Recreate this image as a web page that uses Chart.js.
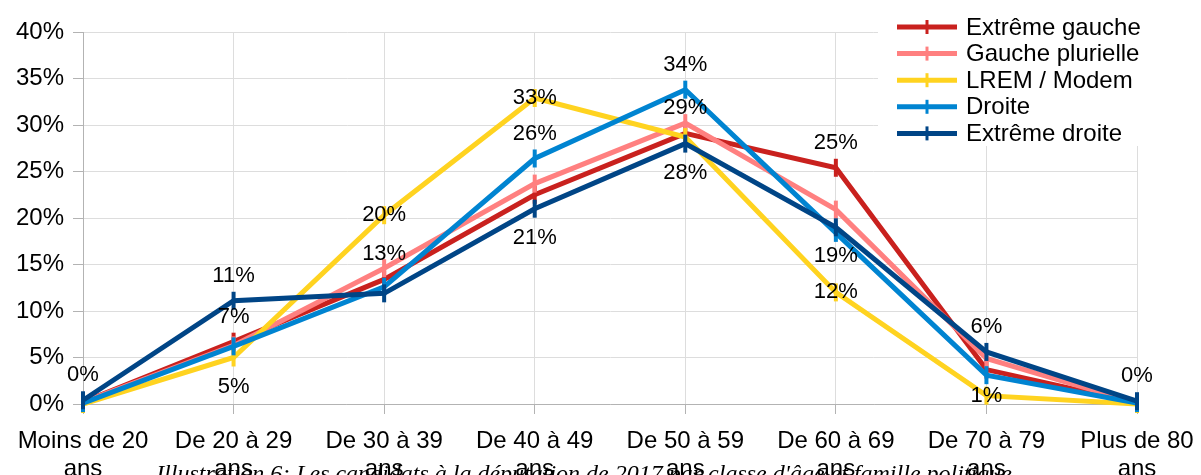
<!DOCTYPE html>
<html>
<head>
<meta charset="utf-8">
<script src="https://cdn.jsdelivr.net/npm/chart.js@4.4.1/dist/chart.umd.min.js"></script>
<style>
  html, body { margin:0; padding:0; background:#fff; overflow:hidden; }
  #wrap { position:relative; width:1201px; height:475px; }
  #caption {
    position:absolute; left:0; width:1168px; top:461px;
    text-align:center; white-space:nowrap;
    font: italic 24px "Liberation Serif", serif; line-height:24px; color:#000;
  }
</style>
</head>
<body>
<div id="wrap">
  <canvas id="myChart" width="1201" height="475"></canvas>
  <div id="caption">Illustration 6: Les candidats à la députation de 2017 par classe d'âge et famille politique</div>
</div>
<script>
const categories = [
  ["Moins de 20", "ans"], ["De 20 à 29", "ans"], ["De 30 à 39", "ans"], ["De 40 à 49", "ans"],
  ["De 50 à 59", "ans"], ["De 60 à 69", "ans"], ["De 70 à 79", "ans"], ["Plus de 80", "ans"]
];
const seriesNames = ["Extrême gauche", "Gauche plurielle", "LREM / Modem", "Droite", "Extrême droite"];
const extremeGauche   = [0.2, 6.7, 13.4, 22.5, 29.1, 25.4, 3.7, 0.1];
const gauchePlurielle = [0.2, 6.3, 14.6, 23.7, 30.2, 20.9, 4.9, 0.1];
const lrem            = [0.0, 5.0, 20.3, 32.9, 28.7, 12.0, 0.9, 0.0];
const droite          = [0.1, 6.2, 12.6, 26.4, 33.8, 18.4, 3.1, 0.1];
const extremeDroite   = [0.4, 11.1, 11.9, 21.0, 28.0, 19.0, 5.6, 0.3];
const yTicks = [0, 5, 10, 15, 20, 25, 30, 35, 40];

// where each data label sits (null = no label)
const labelPos = [
  [null, "above", "above", null, "above", "above", null, null],
  [null, null, null, null, null, null, null, null],
  [null, "below", "center", "center", null, "center", "center", null],
  [null, null, null, "above", "above", null, null, null],
  ["above", "above", null, "below", "below", "below", "above", "above"]
];

const colors = ["#c9211e", "#ff8080", "#ffd320", "#0084d1", "#004586"];
const allData = [extremeGauche, gauchePlurielle, lrem, droite, extremeDroite];
const fontFamily = "'Liberation Sans', Arial, sans-serif";

const datasets = allData.map((d, i) => ({
  label: seriesNames[i],
  data: d,
  borderColor: colors[i],
  backgroundColor: colors[i],
  borderWidth: 5,
  pointStyle: "line",
  rotation: 90,
  pointRadius: 9,
  pointBorderWidth: 4,
  pointHoverRadius: 9,
  tension: 0,
  clip: false,
  order: 4 - i
}));

const dataLabels = {
  id: "dataLabels",
  afterDatasetsDraw(chart){
    const ctx = chart.ctx;
    ctx.save();
    ctx.font = "22px " + fontFamily;
    ctx.fillStyle = "#000";
    ctx.textAlign = "center";
    ctx.textBaseline = "middle";
    chart.data.datasets.forEach((ds, i) => {
      const meta = chart.getDatasetMeta(i);
      meta.data.forEach((pt, j) => {
        const pos = labelPos[i][j];
        if(!pos) return;
        let y = pt.y;
        if(pos === "above") y -= 25;
        if(pos === "below") y += 29;
        ctx.fillText(Math.round(ds.data[j]) + "%", pt.x, y);
      });
    });
    ctx.restore();
  }
};

const legendBox = {
  id: "legendBox",
  afterDraw(chart){
    const ctx = chart.ctx;
    ctx.save();
    ctx.fillStyle = "#fff";
    ctx.fillRect(878, 0, 330, 146);
    ctx.font = "24px " + fontFamily;
    ctx.textBaseline = "middle";
    seriesNames.forEach((name, i) => {
      const y = 27 + i * 26.6;
      ctx.strokeStyle = colors[i];
      ctx.lineWidth = 5;
      ctx.beginPath();
      ctx.moveTo(897, y);
      ctx.lineTo(957, y);
      ctx.stroke();
      ctx.lineWidth = 3;
      ctx.beginPath();
      ctx.moveTo(927, y - 7);
      ctx.lineTo(927, y + 7);
      ctx.stroke();
      ctx.fillStyle = "#000";
      ctx.fillText(name, 966, y + 1);
    });
    ctx.restore();
  }
};

const ctx = document.getElementById("myChart").getContext("2d");
const myChart = new Chart(ctx, {
  type: "line",
  data: {
    labels: categories,
    datasets: datasets
  },
  options: {
    responsive: false,
    animation: false,
    layout: { padding: { top: 32, right: 64, left: 0, bottom: 0 } },
    plugins: {
      legend: { display: false },
      tooltip: { enabled: false }
    },
    scales: {
      x: {
        offset: false,
        grid: { color: "#dddddd", tickLength: 10, tickColor: "#b3b3b3" },
        border: { color: "#b3b3b3" },
        ticks: {
          color: "#000",
          font: { family: fontFamily, size: 24, lineHeight: 1.15 },
          padding: 14,
          maxRotation: 0,
          autoSkip: false
        },
        afterFit(scale){
          scale.height = 71;
          scale.paddingLeft = 0;
          scale.paddingRight = 0;
        }
      },
      y: {
        min: 0,
        max: 40,
        afterBuildTicks(scale){ scale.ticks = yTicks.map(v => ({ value: v })); },
        grid: { color: "#dddddd", tickLength: 10, tickColor: "#b3b3b3" },
        border: { color: "#b3b3b3" },
        ticks: {
          color: "#000",
          font: { family: fontFamily, size: 24 },
          padding: 9,
          callback: v => v + "%"
        },
        afterFit(scale){ scale.width = 83; }
      }
    }
  },
  plugins: [dataLabels, legendBox]
});
</script>
</body>
</html>
